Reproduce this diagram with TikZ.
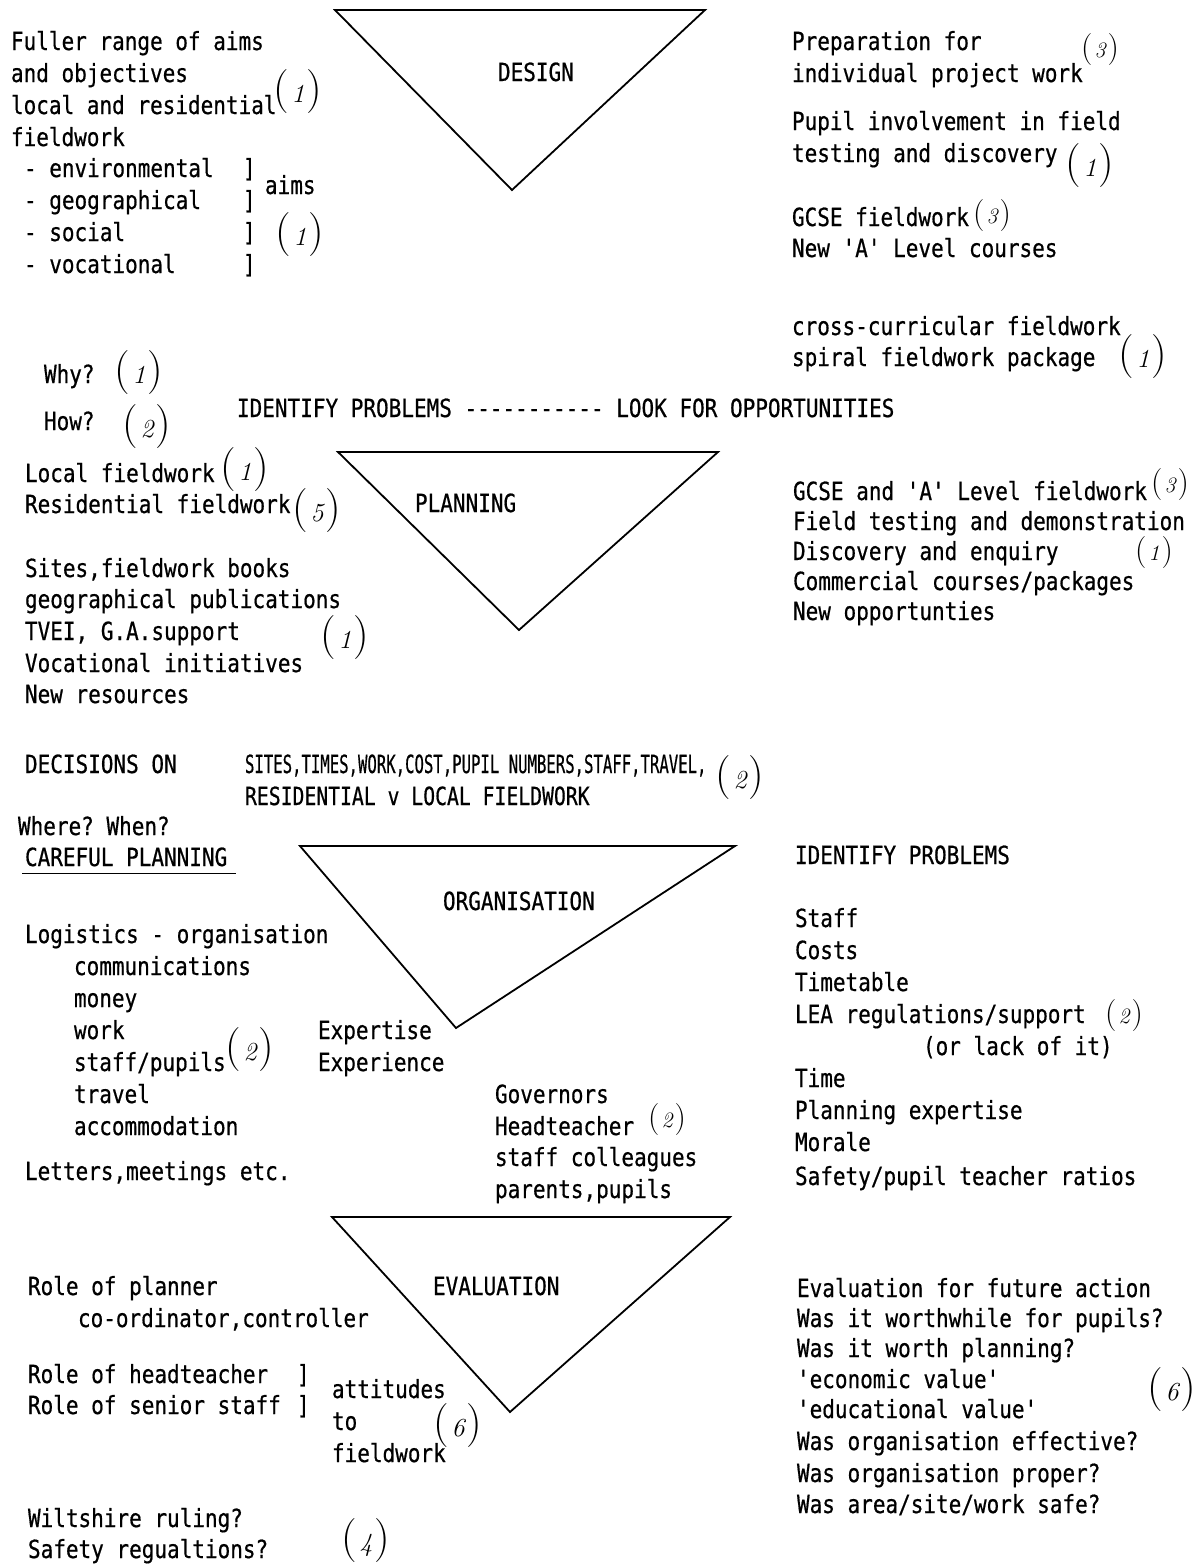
\documentclass[tikz,border=0pt]{standalone}
\usepackage{graphicx}
\usepackage{fontspec}
\setmonofont{DejaVu Sans Mono}[FakeStretch=0.84,FakeBold=0.6]
% handwritten reference numbers in brackets (large and small)
\newcommand\hnum[1]{{\fontsize{44}{44}\selectfont(}\kern2pt{\fontsize{26}{26}\selectfont\itshape #1}\kern2pt{\fontsize{44}{44}\selectfont)}}
\newcommand\hnumsm[1]{{\fontsize{32}{32}\selectfont(}\kern2pt{\fontsize{22}{22}\selectfont\itshape #1}\kern2pt{\fontsize{32}{32}\selectfont)}}
\begin{document}
\begin{tikzpicture}[x=1pt,y=-1pt,
  tx/.style={anchor=base west,inner sep=0pt,outer sep=0pt,font=\ttfamily\fontsize{25}{30}\selectfont},
  hw/.style={inner sep=0pt,outer sep=0pt,font=\rmfamily},
  tri/.style={line width=1.8pt,line join=miter}]
\fill[white] (0,0) rectangle (1202,1564);
\useasboundingbox (0,0) rectangle (1202,1564);

% ---------- DESIGN ----------
\draw[tri] (335,10) -- (705,10) -- (512,190) -- cycle;
\node[tx] (design) at (498,81) {DESIGN};

\node[tx] (l1) at (11,50) {Fuller range of aims};
\node[tx] (l2) at (11,82) {and objectives};
\node[tx] (l3) at (11,114) {local and residential};
\node[tx] (l4) at (11,146) {fieldwork};
\node[tx] (l5) at (24,177) {- environmental};
\node[tx] (l6) at (24,209) {- geographical};
\node[tx] (l7) at (24,241) {- social};
\node[tx] (l8) at (24,273) {- vocational};
\node[tx] (b5) at (243,177) {]};
\node[tx] (b6) at (243,209) {]};
\node[tx] (b7) at (243,241) {]};
\node[tx] (b8) at (243,273) {]};
\node[tx] (aims) at (265,194) {aims};
\node[hw] (n1) at (298,92) {\hnum{1}};
\node[hw] (n2) at (300,235) {\hnum{1}};

\node[tx] (r1) at (792,50) {Preparation for};
\node[tx] (r2) at (792,82) {individual project work};
\node[tx] (r3) at (792,130) {Pupil involvement in field};
\node[tx] (r4) at (792,162) {testing and discovery};
\node[tx] (r5) at (792,226) {GCSE fieldwork};
\node[tx] (r6) at (792,257) {New 'A' Level courses};
\node[tx] (r7) at (792,335) {cross-curricular fieldwork};
\node[tx] (r8) at (792,366) {spiral fieldwork package};
\node[hw] (n3) at (1100,50) {\hnumsm{3}};
\node[hw] (n4) at (1090,166) {\hnum{1}};
\node[hw] (n5) at (992,216) {\hnumsm{3}};
\node[hw] (n6) at (1143,357) {\hnum{1}};

% ---------- PLANNING ----------
\node[tx] (why) at (44,383) {Why?};
\node[tx] (how) at (44,430) {How?};
\node[hw] (n7) at (139,373) {\hnum{1}};
\node[hw] (n8) at (147,427) {\hnum{2}};
\node[tx] (idp) at (237,417) {IDENTIFY PROBLEMS ----------- LOOK FOR OPPORTUNITIES};

\draw[tri] (338,452) -- (718,452) -- (519,630) -- cycle;
\node[tx] (planning) at (415,512) {PLANNING};

\node[tx] (p1) at (25,482) {Local fieldwork};
\node[tx] (p2) at (25,513) {Residential fieldwork};
\node[tx] (p3) at (25,577) {Sites,fieldwork books};
\node[tx] (p4) at (25,608) {geographical publications};
\node[tx] (p5) at (25,640) {TVEI, G.A.support};
\node[tx] (p6) at (25,672) {Vocational initiatives};
\node[tx] (p7) at (25,703) {New resources};
\node[hw] (n9) at (245,470) {\hnum{1}};
\node[hw] (n10) at (317,511) {\hnum{5}};
\node[hw] (n11) at (345,638) {\hnum{1}};

\node[tx] (q1) at (793,500) {GCSE and 'A' Level fieldwork};
\node[tx] (q2) at (793,530) {Field testing and demonstration};
\node[tx] (q3) at (793,560) {Discovery and enquiry};
\node[tx] (q4) at (793,590) {Commercial courses/packages};
\node[tx] (q5) at (793,620) {New opportunties};
\node[hw] (n12) at (1170,485) {\hnumsm{3}};
\node[hw] (n13) at (1154,553) {\hnumsm{1}};

% ---------- DECISIONS ----------
\node[tx] (dec) at (25,773) {DECISIONS ON};
\node[tx] (dec1) at (245,773) {\scalebox{0.745}[1]{SITES,TIMES,WORK,COST,PUPIL NUMBERS,STAFF,TRAVEL,}};
\node[tx] (dec2) at (245,805) {\scalebox{0.94}[1]{RESIDENTIAL v LOCAL FIELDWORK}};
\node[hw] (n14) at (740,778) {\hnum{2}};
\node[tx] (where) at (18,835) {Where? When?};
\node[tx] (careful) at (25,866) {CAREFUL PLANNING};
\draw[line width=1pt] (careful.base west) ++(-3,7) coordinate (ul1) -- ++(214,0) coordinate (ul2);

% ---------- ORGANISATION ----------
\draw[tri] (300,846) -- (735,846) -- (456,1028) -- cycle;
\node[tx] (organisation) at (443,910) {ORGANISATION};

\node[tx] (o1) at (25,943) {Logistics - organisation};
\node[tx] (o2) at (74,975) {communications};
\node[tx] (o3) at (74,1007) {money};
\node[tx] (o4) at (74,1039) {work};
\node[tx] (o5) at (74,1071) {staff/pupils};
\node[tx] (o6) at (74,1103) {travel};
\node[tx] (o7) at (74,1135) {accommodation};
\node[tx] (o8) at (25,1180) {Letters,meetings etc.};
\node[hw] (n15) at (250,1050) {\hnum{2}};
\node[tx] (ex1) at (318,1039) {Expertise};
\node[tx] (ex2) at (318,1071) {Experience};
\node[tx] (g1) at (495,1103) {Governors};
\node[tx] (g2) at (495,1135) {Headteacher};
\node[tx] (g3) at (495,1166) {staff colleagues};
\node[tx] (g4) at (495,1198) {parents,pupils};
\node[hw] (n16) at (667,1120) {\hnumsm{2}};

\node[tx] (s0) at (795,864) {IDENTIFY PROBLEMS};
\node[tx] (s1) at (795,927) {Staff};
\node[tx] (s2) at (795,959) {Costs};
\node[tx] (s3) at (795,991) {Timetable};
\node[tx] (s4) at (795,1023) {LEA regulations/support};
\node[tx] (s5) at (923,1055) {(or lack of it)};
\node[tx] (s6) at (795,1087) {Time};
\node[tx] (s7) at (795,1119) {Planning expertise};
\node[tx] (s8) at (795,1151) {Morale};
\node[tx] (s9) at (795,1185) {Safety/pupil teacher ratios};
\node[hw] (n17) at (1124,1016) {\hnumsm{2}};

% ---------- EVALUATION ----------
\draw[tri] (332,1217) -- (730,1217) -- (510,1412) -- cycle;
\node[tx] (evaluation) at (433,1295) {EVALUATION};

\node[tx] (e1) at (28,1295) {Role of planner};
\node[tx] (e2) at (78,1327) {co-ordinator,controller};
\node[tx] (e3) at (28,1383) {Role of headteacher};
\node[tx] (e4) at (28,1414) {Role of senior staff};
\node[tx] (eb3) at (297,1383) {]};
\node[tx] (eb4) at (297,1414) {]};
\node[tx] (a1) at (332,1398) {attitudes};
\node[tx] (a2) at (332,1430) {to};
\node[tx] (a3) at (332,1462) {fieldwork};
\node[hw] (n18) at (458,1426) {\hnum{6}};
\node[tx] (w1) at (28,1527) {Wiltshire ruling?};
\node[tx] (w2) at (28,1558) {Safety regualtions?};
\node[hw] (n19) at (366,1541) {\hnum{4}};

\node[tx] (v1) at (797,1297) {Evaluation for future action};
\node[tx] (v2) at (797,1327) {Was it worthwhile for pupils?};
\node[tx] (v3) at (797,1357) {Was it worth planning?};
\node[tx] (v4) at (797,1388) {'economic value'};
\node[tx] (v5) at (797,1418) {'educational value'};
\node[tx] (v6) at (797,1450) {Was organisation effective?};
\node[tx] (v7) at (797,1482) {Was organisation proper?};
\node[tx] (v8) at (797,1513) {Was area/site/work safe?};
\node[hw] (n20) at (1172,1390) {\hnum{6}};
\end{tikzpicture}
\end{document}
